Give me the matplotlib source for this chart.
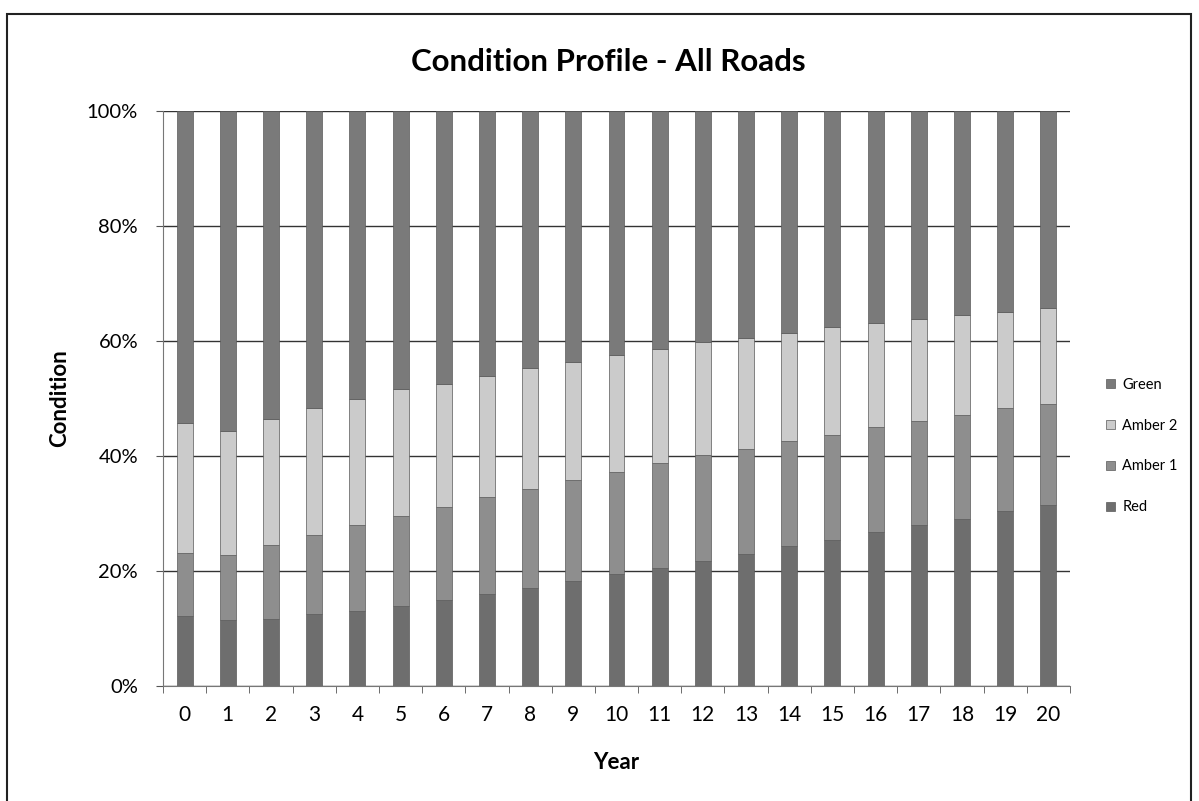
import matplotlib
matplotlib.use("Agg")
import matplotlib.pyplot as plt
from matplotlib.patches import Rectangle
from matplotlib.ticker import FixedLocator, PercentFormatter
import numpy as np

years = [str(i) for i in range(21)]
# cumulative tops (percent)
red_top = [12.1, 11.4, 11.7, 12.5, 13.1, 14.0, 14.9, 16.0, 17.0, 18.2, 19.4,
           20.6, 21.7, 23.0, 24.3, 25.4, 26.8, 28.0, 29.0, 30.4, 31.4]
amber1_top = [23.2, 22.8, 24.5, 26.2, 28.0, 29.6, 31.1, 32.8, 34.3, 35.8, 37.2,
              38.7, 40.1, 41.3, 42.6, 43.7, 45.1, 46.1, 47.2, 48.3, 49.1]
amber2_top = [45.7, 44.3, 46.5, 48.4, 50.0, 51.6, 52.6, 54.0, 55.3, 56.4, 57.5,
              58.6, 59.8, 60.5, 61.4, 62.4, 63.1, 63.9, 64.5, 65.1, 65.8]

red = list(np.array(red_top) / 100)
amber1 = list((np.array(amber1_top) - np.array(red_top)) / 100)
amber2 = list((np.array(amber2_top) - np.array(amber1_top)) / 100)
green = list((100 - np.array(amber2_top)) / 100)

series = [("Red", red, "#6e6e6e"), ("Amber 1", amber1, "#8e8e8e"),
          ("Amber 2", amber2, "#cbcbcb"), ("Green", green, "#7a7a7a")]

plt.rcParams['font.family'] = ['Lato', 'DejaVu Sans']

W, H = 1199, 801
fig = plt.figure(figsize=(W / 100, H / 100), dpi=100)
ax = fig.add_axes([163 / W, 1 - 686 / H, (1070 - 163) / W, (686 - 111) / H])

x = np.arange(len(years))
bottom = np.zeros(len(years))
handles = []
for name, vals, col in series:
    b = ax.bar(x, vals, width=0.37, bottom=bottom, color=col,
               edgecolor="#5a5a5a", linewidth=0.5, label=name, zorder=2)
    handles.append(b)
    bottom = bottom + np.array(vals)

ax.set_xlim(-0.5, len(years) - 0.5)
ax.set_ylim(0, 1)
ax.yaxis.set_major_locator(FixedLocator([0, 0.2, 0.4, 0.6, 0.8, 1.0]))
ax.yaxis.set_major_formatter(PercentFormatter(1.0, decimals=0))
ax.set_xticks(x)
ax.set_xticklabels(years)
ax.xaxis.set_minor_locator(FixedLocator(np.arange(-0.5, len(years), 1)))
ax.tick_params(axis='x', which='major', length=0, labelsize=15, pad=14)
ax.tick_params(axis='x', which='minor', length=5, direction='out', color='#555555')
ax.tick_params(axis='y', which='major', length=5, direction='out', labelsize=14.5,
               pad=13, color='#555555')

ax.grid(axis='y', color='#333333', linewidth=1.0, zorder=0)
ax.set_axisbelow(True)
for s in ['top', 'right']:
    ax.spines[s].set_visible(False)
ax.spines['left'].set_color('#777777')
ax.spines['bottom'].set_color('#777777')

ax.set_ylabel("Condition", fontsize=16, fontweight='bold', labelpad=12)
ax.set_xlabel("Year", fontsize=16, fontweight='bold', labelpad=19)
fig.text(608 / W, 1 - 62 / H, "Condition Profile - All Roads", ha='center',
         va='center', fontsize=22.5, fontweight='bold')

leg = fig.legend(handles[::-1], [s[0] for s in series][::-1],
                 loc='center left', bbox_to_anchor=(1093 / W, 1 - 446 / H),
                 frameon=False, fontsize=10.5, handlelength=0.6, handleheight=0.6,
                 handletextpad=0.5, labelspacing=1.85)

fig.patches.append(Rectangle((7 / W, -0.01), (1191 - 7) / W, 1 - 14 / H + 0.01,
                             transform=fig.transFigure, fill=False,
                             edgecolor='#222222', linewidth=1.5))

fig.savefig("out.png", dpi=100)
